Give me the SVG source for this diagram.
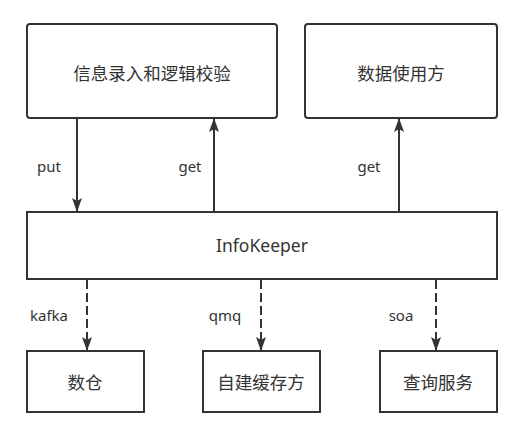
<svg xmlns="http://www.w3.org/2000/svg" width="524" height="436" viewBox="0 0 524 436">
<defs>
<style>
.box{fill:#fff;stroke:#333;stroke-width:2}
.t{font-family:"Noto Sans","Noto Sans CJK SC",sans-serif;font-size:17.5px;fill:#333;text-anchor:middle;dominant-baseline:central}
.l{font-family:"Noto Sans","Noto Sans CJK SC",sans-serif;font-size:15px;fill:#333;text-anchor:middle;dominant-baseline:central}
.c{stroke:#333;stroke-width:2;fill:none}
.d{stroke-dasharray:9 4}
</style>
<marker id="ah" viewBox="0 0 14 10" refX="13" refY="5" markerWidth="14" markerHeight="10" markerUnits="userSpaceOnUse" orient="auto">
<path d="M0,0 L14,5 L0,10 L3,5 Z" fill="#333"/>
</marker>
</defs>
<rect width="524" height="436" fill="#fff"/>
<g id="connectors">
<line class="c" x1="77" y1="119" x2="77" y2="211" marker-end="url(#ah)"/>
<line class="c" x1="214" y1="211" x2="214" y2="119" marker-end="url(#ah)"/>
<line class="c" x1="399" y1="211" x2="399" y2="119" marker-end="url(#ah)"/>
<line class="c d" x1="87" y1="280" x2="87" y2="350" marker-end="url(#ah)"/>
<line class="c d" x1="261" y1="280" x2="261" y2="350" marker-end="url(#ah)"/>
<line class="c d" x1="436" y1="280" x2="436" y2="350" marker-end="url(#ah)"/>
<text class="l" x="49" y="166">put</text>
<text class="l" x="190" y="166">get</text>
<text class="l" x="369" y="166">get</text>
<text class="l" x="49" y="315">kafka</text>
<text class="l" x="225" y="315">qmq</text>
<text class="l" x="401" y="315">soa</text>
</g>
<g id="input"><rect class="box" x="27" y="24" width="250" height="94" rx="3"/><text class="t" x="152" y="73">信息录入和逻辑校验</text></g>
<g id="consumer"><rect class="box" x="305" y="24" width="192" height="94" rx="3"/><text class="t" x="401" y="73">数据使用方</text></g>
<g id="infokeeper"><rect class="box" x="27" y="212" width="470" height="67"/><text class="t" x="262" y="245">InfoKeeper</text></g>
<g id="warehouse"><rect class="box" x="27" y="351" width="117" height="61"/><text class="t" x="85" y="382">数仓</text></g>
<g id="cache"><rect class="box" x="203" y="351" width="117" height="61"/><text class="t" x="261" y="382">自建缓存方</text></g>
<g id="query"><rect class="box" x="380" y="351" width="117" height="61"/><text class="t" x="438" y="382">查询服务</text></g>
</svg>
